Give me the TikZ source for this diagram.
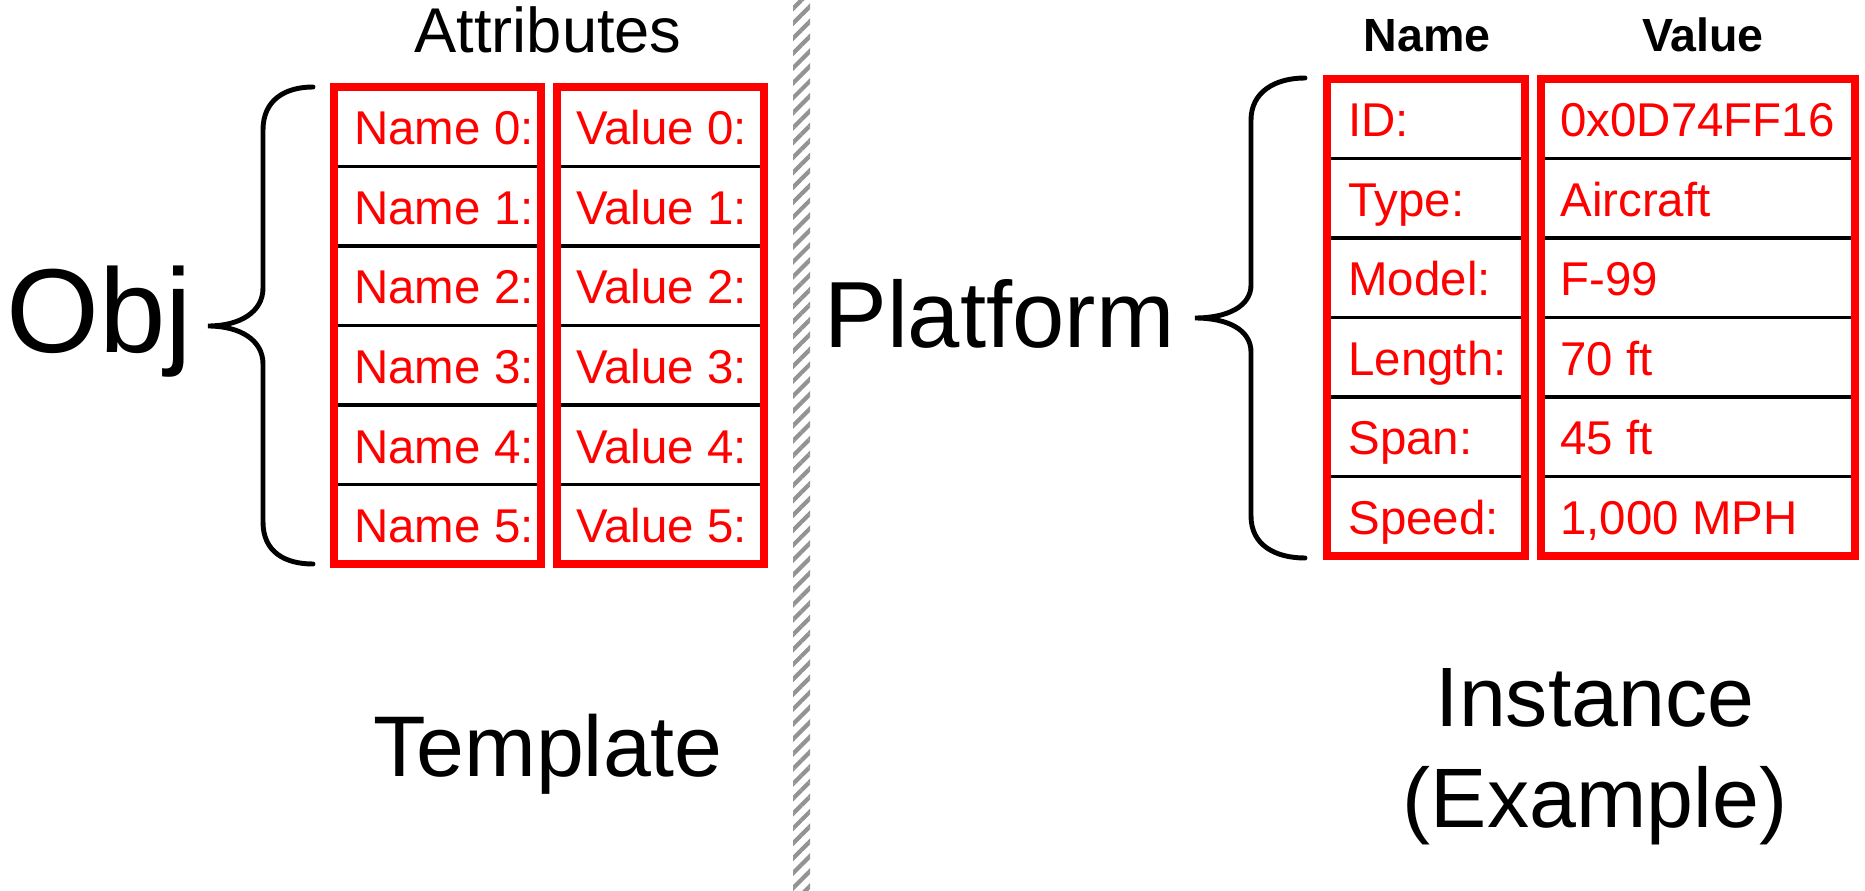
\documentclass[tikz,border=0pt]{standalone}
\usepackage{fontspec}
\setmainfont{Liberation Sans}
\usetikzlibrary{patterns.meta}

\begin{document}
\begin{tikzpicture}[x=0.02cm,y=-0.02cm,
  box/.style={draw=red,line width=4.5pt},
  sep/.style={draw=black,line width=2pt},
  brace/.style={draw=black,line width=2.8pt,line cap=round},
  cell/.style={text=red,anchor=base west,inner sep=0pt,font=\fontsize{27}{32}\selectfont},
  head/.style={anchor=base,inner sep=0pt,font=\bfseries\fontsize{26.5}{32}\selectfont},
  big/.style={anchor=base,inner sep=0pt}]
\useasboundingbox (0,0) rectangle (1865,891);
\fill[pattern={Lines[angle=45,distance=6pt,line width=2.4pt]},pattern color=gray!85] (793,0) rectangle (810,891);
\node[big,font=\fontsize{36}{43}\selectfont] (attrhead) at (548,53) {Attributes};
\node[big,anchor=base west,font=\fontsize{68}{80}\selectfont] (obj) at (6,353) {Obj};
\node[big,font=\fontsize{49}{58}\selectfont] (template) at (548,776) {Template};
\draw[brace] (313,87) .. controls (285,87) and (263,100) .. (263,130) -- (263,288)
  .. controls (263,312) and (240,326) .. (208,326) .. controls (240,326) and (263,340) .. (263,364)
  -- (263,522) .. controls (263,552) and (285,564) .. (313,564);
\draw[sep] (334,166.5) -- (541,166.5) (334,246) -- (541,246) (334,325.5) -- (541,325.5) (334,405) -- (541,405) (334,484.5) -- (541,484.5);
\draw[sep] (557,166.5) -- (764,166.5) (557,246) -- (764,246) (557,325.5) -- (764,325.5) (557,405) -- (764,405) (557,484.5) -- (764,484.5);
\draw[box] (334,87) rectangle (541,564);
\draw[box] (557,87) rectangle (764,564);
\node[cell] (tname0) at (354,145) {Name 0:};
\node[cell] (tname1) at (354,224.5) {Name 1:};
\node[cell] (tname2) at (354,304) {Name 2:};
\node[cell] (tname3) at (354,383.5) {Name 3:};
\node[cell] (tname4) at (354,463) {Name 4:};
\node[cell] (tname5) at (354,542.5) {Name 5:};
\node[cell] (tvalue0) at (576,145) {Value 0:};
\node[cell] (tvalue1) at (576,224.5) {Value 1:};
\node[cell] (tvalue2) at (576,304) {Value 2:};
\node[cell] (tvalue3) at (576,383.5) {Value 3:};
\node[cell] (tvalue4) at (576,463) {Value 4:};
\node[cell] (tvalue5) at (576,542.5) {Value 5:};
\node[head] (namehead) at (1427,52) {Name};
\node[head] (valuehead) at (1703,52) {Value};
\node[big,anchor=base west,font=\fontsize{53.5}{64}\selectfont] (platform) at (824,348) {Platform};
\node[big,font=\fontsize{48}{58}\selectfont] (instance) at (1595,726) {Instance};
\node[big,font=\fontsize{48}{58}\selectfont] (example) at (1595,827) {(Example)};
\draw[brace] (1305,78) .. controls (1275,78) and (1251,92) .. (1251,120) -- (1251,285)
  .. controls (1251,306) and (1228,318) .. (1195,318) .. controls (1228,318) and (1251,330) .. (1251,352)
  -- (1251,516) .. controls (1251,545) and (1275,558) .. (1305,558);
\draw[sep] (1327,158.5) -- (1525,158.5) (1327,238) -- (1525,238) (1327,317.5) -- (1525,317.5) (1327,397) -- (1525,397) (1327,476.5) -- (1525,476.5);
\draw[sep] (1541,158.5) -- (1855,158.5) (1541,238) -- (1855,238) (1541,317.5) -- (1855,317.5) (1541,397) -- (1855,397) (1541,476.5) -- (1855,476.5);
\draw[box] (1327,79) rectangle (1525,556);
\draw[box] (1541,79) rectangle (1855,556);
\node[cell] (iname0) at (1348,137) {ID:};
\node[cell] (iname1) at (1348,216.5) {Type:};
\node[cell] (iname2) at (1348,296) {Model:};
\node[cell] (iname3) at (1348,375.5) {Length:};
\node[cell] (iname4) at (1348,455) {Span:};
\node[cell] (iname5) at (1348,534.5) {Speed:};
\node[cell] (ivalue0) at (1560,137) {0x0D74FF16};
\node[cell] (ivalue1) at (1560,216.5) {Aircraft};
\node[cell] (ivalue2) at (1560,296) {F-99};
\node[cell] (ivalue3) at (1560,375.5) {70 ft};
\node[cell] (ivalue4) at (1560,455) {45 ft};
\node[cell] (ivalue5) at (1560,534.5) {1,000 MPH};
\end{tikzpicture}
\end{document}
